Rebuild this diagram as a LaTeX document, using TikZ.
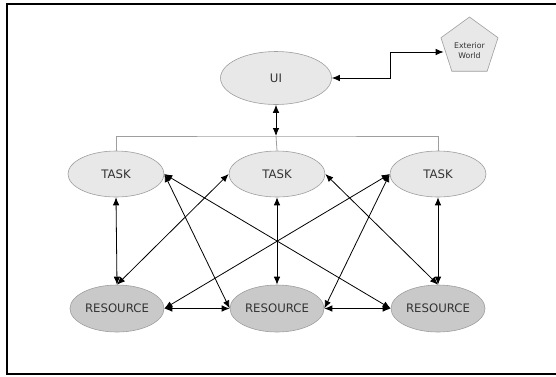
\documentclass[tikz,border=0pt]{standalone}
\usepackage{fontspec}
\setmainfont{DejaVu Sans}
\usetikzlibrary{shapes.geometric, arrows.meta}

\definecolor{lightfill}{gray}{0.91}
\definecolor{darkfill}{gray}{0.79}
\definecolor{edgegray}{gray}{0.62}
\definecolor{textgray}{gray}{0.2}

\begin{document}
\begin{tikzpicture}[x=1pt, y=-1pt]
  \tikzset{
    task_node/.style={ellipse, fill=lightfill, draw=edgegray, line width=0.6pt, inner sep=0pt, minimum width=96pt, minimum height=46pt, text=textgray, font=\fontsize{11.7}{14}\selectfont},
    res_node/.style={task_node, fill=darkfill, minimum width=94pt, minimum height=47pt},
    ui_node/.style={task_node, minimum width=111pt, minimum height=53pt},
    world_node/.style={regular polygon, regular polygon sides=5, fill=lightfill, draw=edgegray, line width=0.6pt, inner sep=0pt, minimum size=60pt},
    both_arrow/.style={{Latex[length=8pt, width=6.5pt]}-{Latex[length=8pt, width=6.5pt]}, line width=0.8pt},
    bus_line/.style={draw=edgegray, line width=0.8pt}
  }

  % Marco y caja
  \useasboundingbox (0,0) rectangle (556,376);
  \draw[line width=2pt] (560,3.5) -- (7,3.5) -- (7,374) -- (560,374);

  % Nodos superiores
  \node[ui_node] (ui) at (276,78) {UI};
  \node[world_node] (world) at (469.5,47) {};
  \node[align=center, text=textgray, font=\fontsize{7.8}{10}\selectfont] (world_txt) at (469.5,51) {Exterior\\World};

  % Tareas
  \node[task_node] (task_l) at (116,174) {TASK};
  \node[task_node] (task_m) at (277,174) {TASK};
  \node[task_node] (task_r) at (438,174) {TASK};

  % Recursos
  \node[res_node] (res_l) at (117,308.5) {RESOURCE};
  \node[res_node] (res_m) at (277,308.5) {RESOURCE};
  \node[res_node] (res_r) at (438,308.5) {RESOURCE};

  % Conexion UI - mundo exterior
  \coordinate (bend) at (390,78);
  \draw[both_arrow] (ui.east) -- (bend) |- ([yshift=-5pt]world.west);

  % Bus de tareas
  \coordinate (bus_m) at (276,136);
  \draw[bus_line] (task_l.north) |- (bus_m) -| (task_r.north);
  \draw[bus_line] (bus_m) -- (task_m.north);
  \draw[both_arrow] (ui.south) -- (bus_m);

  % Tarea - recurso (verticales)
  \draw[both_arrow] (task_l.south) -- (res_l.north);
  \draw[both_arrow] (task_m.south) -- (res_m.north);
  \draw[both_arrow] (task_r.south) -- (res_r.north);

  % Diagonales
  \draw[both_arrow] (task_m.west) -- (res_l.north);
  \draw[both_arrow] (task_l.east) -- (res_m.west);
  \draw[both_arrow] (task_l.east) -- (res_r.west);
  \draw[both_arrow] (task_r.west) -- (res_l.east);
  \draw[both_arrow] (task_r.west) -- (res_m.east);
  \draw[both_arrow] (task_m.east) -- (res_r.north);

  % Recurso - recurso
  \draw[both_arrow] (res_l.east) -- (res_m.west);
  \draw[both_arrow] (res_m.east) -- (res_r.west);
\end{tikzpicture}
\end{document}
